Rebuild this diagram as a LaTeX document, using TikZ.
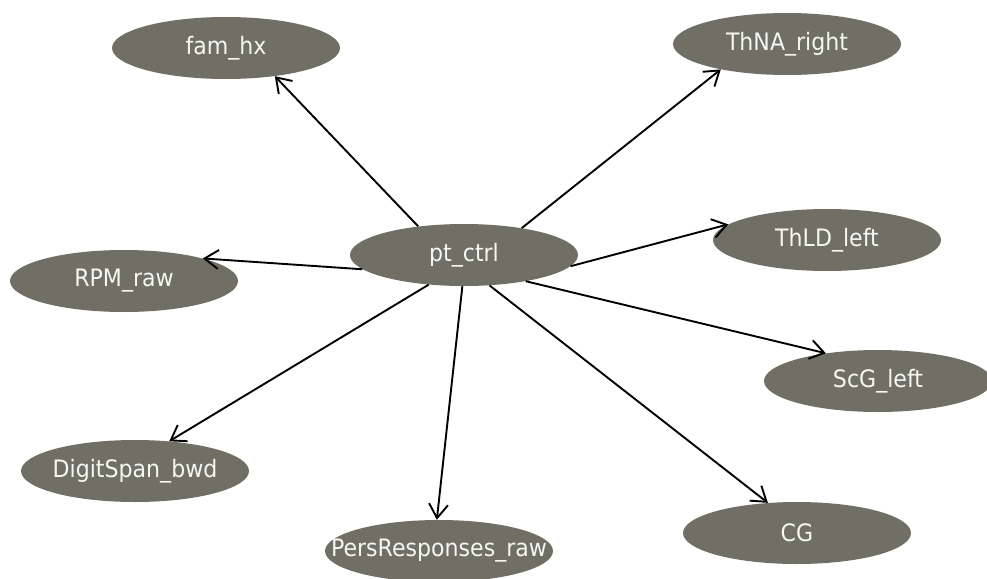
\documentclass[tikz,border=0pt]{standalone}
\usepackage{fontspec}
\setmainfont{DejaVu Sans}[FakeStretch=0.92]
\usetikzlibrary{shapes.geometric,arrows.meta}
\definecolor{nodegray}{RGB}{112,111,101}
\definecolor{nodetext}{RGB}{246,246,242}
\tikzset{
  var/.style={ellipse, fill=nodegray, draw=none, minimum width=228pt, minimum height=62pt, inner sep=0pt,
    text=nodetext, font=\fontsize{24pt}{28pt}\selectfont},
  edge/.style={draw=black, line width=1.9pt, -{Straight Barb[length=14pt,width=19pt,line width=1.9pt]}}
}
\newcommand{\lbl}[1]{\raisebox{-3pt}{\makebox[0pt]{#1}}}
\begin{document}
\begin{tikzpicture}[x=1pt,y=-1pt]
\useasboundingbox (0,0) rectangle (987,578);
\node[var] (pt) at (464,255) {\lbl{pt\_ctrl}};
\node[var] (fam) at (226,48) {\lbl{fam\_hx}};
\node[var] (thna) at (787,44) {\lbl{ThNA\_right}};
\node[var] (thld) at (827,240) {\lbl{ThLD\_left}};
\node[var] (rpm) at (124,281) {\lbl{RPM\_raw}};
\node[var] (scg) at (878,381) {\lbl{ScG\_left}};
\node[var] (digit) at (135,471) {\lbl{DigitSpan\_bwd}};
\node[var] (pers) at (439,551) {\lbl{PersResponses\_raw}};
\node[var] (cg) at (797,533) {\lbl{CG}};
\draw[edge] (pt.148) -- (fam.-30);
\draw[edge] (pt.25) -- (thna.201);
\draw[edge] (pt.-6) -- (thld.171);
\draw[edge] (pt.-23) -- (scg.152);
\draw[edge] (pt.-50) -- (cg.134);
\draw[edge] (pt.-93) -- (pers.94);
\draw[edge] (pt.-140) -- (digit.41);
\draw[edge] (pt.188) -- (rpm.16);
\end{tikzpicture}
\end{document}
